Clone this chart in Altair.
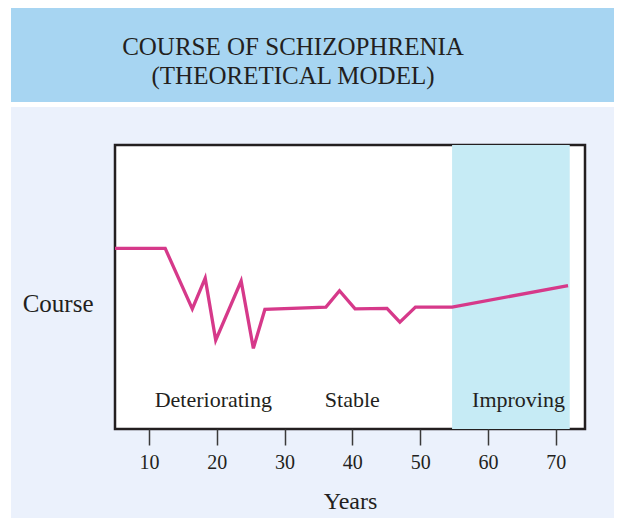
import altair as alt
import pandas as pd

# ---- data ----
years = [5.0, 12.4, 16.4, 18.3, 19.85, 23.6, 25.4, 27.1, 36.1, 38.1, 40.4, 45.1, 47.0, 49.3, 54.7, 71.8]
course = [63.6, 63.6, 42.3, 53.1, 31.3, 52.1, 28.4, 42.1, 42.9, 48.7, 42.3, 42.5, 37.6, 42.9, 42.9, 50.5]
phases = ["Deteriorating", "Stable", "Improving"]
phase_label_year = [19.5, 40.0, 64.5]
phase_label_course = [7.9, 7.9, 7.9]
improving_start = [54.7]
improving_end = [72.05]
x_ticks = [10, 20, 30, 40, 50, 60, 70]
title_lines = ["COURSE OF SCHIZOPHRENIA", "(THEORETICAL MODEL)"]

SERIF = "Liberation Serif"
INK = "#231f20"
W, H = 470, 284

xscale = alt.Scale(domain=[5, 74.3], nice=False, zero=False)
yscale = alt.Scale(domain=[0, 100], nice=False, zero=False)

line_df = pd.DataFrame({"year": years, "course": course})
label_df = pd.DataFrame({"phase": phases, "year": phase_label_year, "course": phase_label_course})
shade_df = pd.DataFrame({"start": improving_start, "end": improving_end})
one = pd.DataFrame({"a": [0]})

# decorative title band and margins (outside the plot area)
band = alt.Chart(one).mark_rect(color="#a7d5f2").encode(
    x=alt.value(-104), x2=alt.value(W + 40), y=alt.value(-137), y2=alt.value(-43)
)
gap = alt.Chart(one).mark_rect(color="white").encode(
    x=alt.value(-107), x2=alt.value(W + 40), y=alt.value(-43), y2=alt.value(-38)
)
left_strip = alt.Chart(one).mark_rect(color="white").encode(
    x=alt.value(-107), x2=alt.value(-104), y=alt.value(-137), y2=alt.value(H + 100)
)
title = alt.Chart(one).mark_text(
    font=SERIF, fontSize=25, color=INK, align="center", baseline="alphabetic",
    lineBreak="\n", lineHeight=29,
).encode(
    x=alt.value(178), y=alt.value(-90), text=alt.value("\n".join(title_lines))
)

shade = alt.Chart(shade_df).mark_rect(color="#c6ebf5").encode(
    x=alt.X("start:Q", scale=xscale),
    x2="end:Q",
)

line = alt.Chart(line_df).mark_line(color="#d6398a", strokeWidth=3.3, strokeJoin="miter").encode(
    x=alt.X(
        "year:Q",
        scale=xscale,
        axis=alt.Axis(
            values=x_ticks, tickSize=16, tickWidth=1.5, tickColor="#3a3a3a",
            domain=False, grid=False,
            labelFont=SERIF, labelFontSize=20, labelColor=INK,
            labelBaseline="alphabetic", labelPadding=23, labelFlush=False,
            title="Years", titleFont=SERIF, titleFontSize=24, titleFontWeight="normal",
            titleColor=INK, titleBaseline="alphabetic", titleAlign="center",
            titleX=W / 2, titleY=79,
        ),
    ),
    y=alt.Y(
        "course:Q",
        scale=yscale,
        axis=alt.Axis(
            ticks=False, labels=False, domain=False, grid=False,
            title="Course", titleFont=SERIF, titleFontSize=25, titleFontWeight="normal",
            titleColor=INK, titleAngle=0, titleAlign="right", titleBaseline="alphabetic",
            titleX=-22, titleY=166,
        ),
    ),
)

labels = alt.Chart(label_df).mark_text(
    font=SERIF, fontSize=22, color=INK, align="center", baseline="alphabetic"
).encode(
    x=alt.X("year:Q", scale=xscale),
    y=alt.Y("course:Q", scale=yscale),
    text="phase:N",
)

chart = (
    alt.layer(band, gap, left_strip, title, shade, line, labels)
    .properties(
        width=W,
        height=H,
        autosize=alt.AutoSizeParams(type="none"),
        padding={"left": 107, "top": 137, "right": 29, "bottom": 89},
        background="#ebf1fc",
    )
    .configure_view(stroke=INK, strokeWidth=2.5, fill="white")
)

chart.save("out.html", embed_options={"renderer": "svg", "actions": False})
